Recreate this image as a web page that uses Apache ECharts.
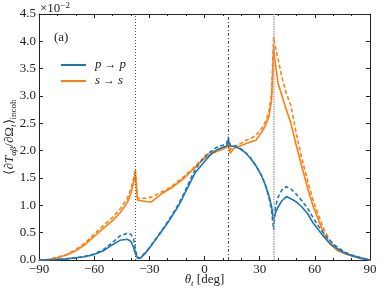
<!DOCTYPE html>
<html><head><meta charset="utf-8">
<script src="https://cdn.jsdelivr.net/npm/echarts@6/dist/echarts.min.js"></script>
<style>html,body{margin:0;padding:0;background:#fff;}#c{width:390px;height:293px;}</style>
</head><body><div id="c"></div>
<script>
const theta = [-90,-85,-80,-75,-70,-65,-60,-55,-50,-46,-42,-40,-38.5,-37.6,-36.5,-35,-32,-29,-26,-23,-20,-17,-14,-11,-8,-5,-2,1,4,7,10,12,12.9,14,16,19,22,25,28,31,33,35,36.5,37.6,38.5,40,42,44.5,47,50,53,56,59,62,65,68,72,76,80,85,90];
const ppSolid = [0,0,0.01,0.02,0.04,0.06,0.10,0.17,0.28,0.36,0.38,0.34,0.22,0.12,0.05,0.03,0.13,0.26,0.40,0.54,0.68,0.84,1.00,1.20,1.40,1.60,1.72,1.84,1.95,2.02,2.06,2.08,2.20,2.08,2.08,2.04,1.97,1.86,1.72,1.54,1.38,1.18,0.97,0.73,0.85,0.97,1.08,1.16,1.12,1.06,0.97,0.85,0.68,0.55,0.42,0.31,0.21,0.13,0.08,0.03,0];
const ppDashed = [0,0,0.01,0.02,0.04,0.07,0.11,0.19,0.32,0.44,0.49,0.47,0.38,0.20,0.03,0.04,0.14,0.27,0.41,0.55,0.70,0.86,1.03,1.23,1.45,1.66,1.80,1.92,2.00,2.07,2.10,2.12,2.25,2.10,2.09,2.05,1.98,1.87,1.73,1.55,1.38,1.15,0.90,0.55,0.95,1.15,1.28,1.34,1.30,1.20,1.08,0.95,0.78,0.62,0.48,0.36,0.24,0.15,0.09,0.04,0];
const ssSolid = [0,0.01,0.04,0.09,0.17,0.28,0.43,0.58,0.72,0.86,1.05,1.22,1.42,1.59,1.10,1.09,1.07,1.06,1.14,1.22,1.28,1.34,1.42,1.50,1.60,1.70,1.80,1.88,1.95,1.99,2.03,2.06,2.12,1.95,2.05,2.08,2.12,2.16,2.19,2.33,2.45,2.62,2.93,3.90,3.60,3.23,3.02,2.75,2.50,2.08,1.70,1.32,0.99,0.73,0.47,0.30,0.18,0.12,0.08,0.04,0];
const ssDashed = [0,0.01,0.05,0.10,0.19,0.31,0.47,0.63,0.78,0.93,1.12,1.30,1.50,1.66,1.14,1.13,1.13,1.15,1.20,1.25,1.30,1.37,1.45,1.53,1.62,1.72,1.82,1.92,1.98,2.02,2.05,2.08,2.15,2.02,2.08,2.12,2.18,2.22,2.28,2.40,2.52,2.70,3.05,4.08,3.90,3.68,3.35,3.05,2.82,2.30,1.85,1.46,1.10,0.82,0.56,0.37,0.22,0.14,0.09,0.04,0];
const xTicks = [-90,-60,-30,0,30,60,90];
const yTicks = [0,0.5,1.0,1.5,2.0,2.5,3.0,3.5,4.0,4.5];
const vLines = [-37.6, 12.9, 37.6];

const BLUE = '#1f77b4', ORANGE = '#ff7f0e', INK = '#222';
const FONT = "'Liberation Serif', serif";
const pairs = ys => theta.map((t,i)=>[t, ys[i]]);
const fmtX = v => v < 0 ? '\u2212' + Math.abs(v) : String(v);

const chart = echarts.init(document.getElementById('c'), null, {renderer:'canvas'});
const axisCommon = {
  axisLine:{show:true, onZero:false, lineStyle:{color:INK, width:1}},
  splitLine:{show:false},
};
const tick = {show:true, inside:true, length:4, lineStyle:{color:INK}};
const minor = {show:true, splitNumber:3, length:2, lineStyle:{color:INK}};
const mathRich = {
  i:{fontFamily:FONT, fontStyle:'italic', fontSize:13, color:INK, lineHeight:13, padding:[0,0,4,0]},
  s:{fontFamily:FONT, fontStyle:'italic', fontSize:9, color:INK, lineHeight:10, verticalAlign:'bottom'},
  u:{fontFamily:FONT, fontSize:9, color:INK, lineHeight:10, verticalAlign:'bottom'},
  m:{fontFamily:FONT, fontSize:13, color:INK, lineHeight:13, padding:[0,0,4,0]}
};
chart.setOption({
  animation:false,
  backgroundColor:'#fff',
  textStyle:{fontFamily:FONT},
  grid:{left:39, right:20, top:14, bottom:33, containLabel:false, outerBoundsMode:'none'},
  legend:{
    data:[{name:'pp', icon:'rect'},{name:'ss', icon:'rect'}], orient:'vertical', left:56, top:53,
    itemWidth:25, itemHeight:2, itemGap:2,
    formatter: n => n === 'pp' ? '{i|p} → {i|p}' : '{i|s} → {i|s}',
    textStyle:{fontFamily:FONT, fontSize:12, color:INK, lineHeight:14, padding:[0,0,0,4],
      rich:{i:{fontStyle:'italic', fontFamily:FONT, fontSize:13, lineHeight:14}}}
  },
  xAxis:[{
    type:'value', min:-90, max:90, interval:30, position:'bottom',
    ...axisCommon, axisTick:tick, minorTick:minor,
    axisLabel:{fontFamily:FONT, fontSize:13, color:INK, margin:3, formatter: v => xTicks.includes(v) ? fmtX(v) : ''},
    name:'{i|θ}{s|t}{m| [deg]}', nameLocation:'middle', nameGap:15, nameMoveOverlap:false,
    nameTextStyle:{rich:mathRich}
  },{
    type:'value', min:-90, max:90, interval:30, position:'top',
    ...axisCommon, axisTick:tick, minorTick:minor,
    axisLabel:{show:false}
  }],
  yAxis:[{
    type:'value', min:0, max:4.5, interval:0.5, position:'left',
    ...axisCommon, axisTick:tick,
    axisLabel:{fontFamily:FONT, fontSize:13, color:INK, margin:3, formatter: v => yTicks.some(t=>Math.abs(t-v)<1e-9) ? v.toFixed(1) : ''},
    name:'{m|⟨∂}{i|T}{s|αβ}{m|/∂Ω}{s|t}{m|⟩}{u|incoh}', nameLocation:'middle', nameGap:21, nameRotate:90, nameMoveOverlap:false,
    nameTextStyle:{rich:mathRich}
  },{
    type:'value', min:0, max:4.5, interval:0.5, position:'right',
    ...axisCommon, axisTick:tick,
    axisLabel:{show:false}
  }],
  graphic:[
    {type:'text', x:40, y:1, z:10, style:{text:'{m|×10}{p|−2}', rich:{
      m:{fontFamily:FONT, fontSize:13, fill:INK, lineHeight:14, verticalAlign:'bottom'},
      p:{fontFamily:FONT, fontSize:9, fill:INK, lineHeight:14, verticalAlign:'top'}
    }}},
    {type:'text', x:54, y:31, z:10, style:{text:'(a)', fontFamily:FONT, fontSize:13, fill:INK}}
  ],
  series:[
    {name:'vlines', type:'line', data:[], silent:true, z:1,
     markLine:{silent:true, symbol:['none','none'], label:{show:false}, animation:false,
      data:[
        {xAxis:vLines[0], lineStyle:{color:'#555', width:1, type:[1,2]}},
        {xAxis:vLines[1], lineStyle:{color:'#555', width:1, type:[3,2,1,2]}},
        {xAxis:vLines[2], lineStyle:{color:'#aaa', width:1.5, type:[1.5,1]}}
      ]}},
    {name:'pp', type:'line', data:pairs(ppSolid), symbol:'none', color:BLUE, lineStyle:{width:1.6, color:BLUE}, z:3},
    {name:'pp_d', type:'line', data:pairs(ppDashed), symbol:'none', color:BLUE, lineStyle:{width:1.6, color:BLUE, type:[4,2.5]}, z:3},
    {name:'ss', type:'line', data:pairs(ssSolid), symbol:'none', color:ORANGE, lineStyle:{width:1.6, color:ORANGE}, z:2},
    {name:'ss_d', type:'line', data:pairs(ssDashed), symbol:'none', color:ORANGE, lineStyle:{width:1.6, color:ORANGE, type:[4,2.5]}, z:2}
  ]
});
</script></body></html>
